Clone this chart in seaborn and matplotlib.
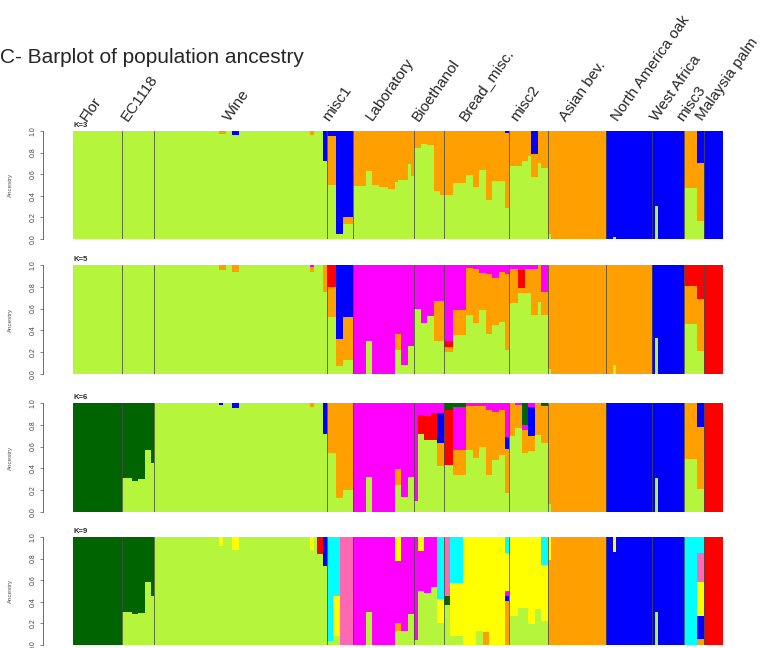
import numpy as np
import pandas as pd
import matplotlib.pyplot as plt
import matplotlib.transforms as mtransforms
import seaborn as sns

# Populations (left to right) and number of strains in each
pops = ['Flor', 'EC1118', 'Wine', 'misc1', 'Laboratory', 'Bioethanol', 'Bread_misc.',
        'misc2', 'Asian bev.', 'North America oak', 'West Africa', 'misc3', 'Malaysia palm']
pop_sizes = [15, 10, 53, 8, 19, 9, 20, 12, 18, 14, 10, 6, 6]

# Ancestry components, stacked from bottom to top
comp_order = ['L', 'O', 'B', 'R', 'M', 'G', 'Y', 'P', 'C']
comp_colors = {'L': '#B5F53C', 'O': '#FFA000', 'B': '#0000FF', 'R': '#FF0000',
               'M': '#FF00FF', 'G': '#006400', 'Y': '#FFFF00', 'P': '#FF69B4',
               'C': '#00FFFF'}

# Each run: (number of strains, ancestry fractions)
k3_runs = [
    (45, dict(L=1)), (2, dict(L=.97, O=.03)), (2, dict(L=1)), (2, dict(L=.96, B=.04)),
    (22, dict(L=1)), (1, dict(L=.96, O=.04)), (3, dict(L=1)), (1, dict(L=.72, B=.28)),
    (3, dict(L=.50, O=.45, B=.05)), (2, dict(L=.05, B=.95)), (3, dict(L=.14, O=.06, B=.80)),
    (4, dict(L=.49, O=.51)), (2, dict(L=.63, O=.37)), (2, dict(L=.50, O=.50)),
    (3, dict(L=.48, O=.52)), (2, dict(L=.46, O=.54)), (1, dict(L=.53, O=.47)),
    (3, dict(L=.55, O=.45)), (1, dict(L=.69, O=.31)), (1, dict(L=.58, O=.42)),
    (2, dict(L=.84, O=.16)), (2, dict(L=.88, O=.12)), (2, dict(L=.87, O=.13)),
    (2, dict(L=.44, O=.56)),
    (4, dict(L=.41, O=.59)), (4, dict(L=.52, O=.48)), (2, dict(L=.59, O=.41)),
    (2, dict(L=.48, O=.52)), (2, dict(L=.64, O=.36)), (2, dict(L=.36, O=.64)),
    (4, dict(L=.54, O=.46)), (1, dict(L=.29, O=.69, B=.02)),
    (4, dict(L=.68, O=.32)), (2, dict(L=.72, O=.28)), (1, dict(L=.77, O=.23)),
    (2, dict(L=.57, O=.22, B=.21)), (1, dict(L=.70, O=.30)), (2, dict(L=.66, O=.34)),
    (1, dict(L=.05, O=.95)), (17, dict(O=1)),
    (2, dict(B=1)), (1, dict(L=.02, B=.98)), (11, dict(B=1)),
    (1, dict(B=1)), (1, dict(L=.31, B=.69)), (8, dict(B=1)),
    (4, dict(L=.47, O=.53)), (2, dict(L=.17, O=.53, B=.30)),
    (6, dict(B=1)),
]

k5_runs = [
    (45, dict(L=1)), (2, dict(L=.95, O=.05)), (2, dict(L=1)), (2, dict(L=.94, O=.06)),
    (22, dict(L=1)), (1, dict(L=.94, O=.04, M=.02)), (3, dict(L=1)), (1, dict(L=.75, O=.25)),
    (3, dict(L=.52, O=.28, R=.20)), (2, dict(L=.07, O=.25, B=.68)), (3, dict(L=.13, O=.39, B=.48)),
    (4, dict(M=1)), (2, dict(L=.30, M=.70)), (7, dict(M=1)), (2, dict(L=.22, O=.15, M=.63)),
    (2, dict(L=.08, M=.92)), (2, dict(L=.26, M=.74)),
    (2, dict(L=.60, M=.40)), (2, dict(L=.47, M=.53)), (2, dict(L=.53, M=.47)),
    (2, dict(L=.30, O=.37, M=.33)),
    (1, dict(L=.30, O=.37, M=.33)), (3, dict(L=.20, O=.05, R=.05, M=.70)),
    (4, dict(L=.36, O=.23, M=.41)), (2, dict(L=.54, O=.43, M=.03)),
    (2, dict(L=.47, O=.49, M=.04)), (2, dict(L=.59, O=.34, M=.07)),
    (2, dict(L=.37, O=.55, M=.08)), (2, dict(L=.45, O=.43, M=.12)),
    (2, dict(L=.48, O=.46, M=.06)), (1, dict(L=.22, O=.70, M=.08)),
    (3, dict(L=.65, O=.31, M=.04)), (2, dict(L=.74, O=.05, R=.16, M=.05)),
    (2, dict(L=.74, O=.22, M=.04)), (2, dict(L=.54, O=.42, M=.04)),
    (1, dict(L=.66, O=.34)), (2, dict(L=.54, O=.21, M=.25)),
    (1, dict(L=.05, O=.95)), (17, dict(O=1)),
    (2, dict(O=1)), (1, dict(L=.08, O=.92)), (11, dict(O=1)),
    (1, dict(B=1)), (1, dict(L=.33, B=.67)), (8, dict(B=1)),
    (4, dict(L=.46, O=.35, R=.19)), (2, dict(L=.21, O=.48, R=.31)),
    (6, dict(R=1)),
]

k6_runs = [
    (15, dict(G=1)), (3, dict(L=.31, G=.69)), (2, dict(L=.28, G=.72)),
    (2, dict(L=.30, G=.70)), (2, dict(L=.57, G=.43)), (1, dict(L=.45, G=.55)),
    (20, dict(L=1)), (1, dict(L=.98, B=.02)), (3, dict(L=1)), (2, dict(L=.95, B=.05)),
    (22, dict(L=1)), (1, dict(L=.96, O=.04)), (3, dict(L=1)), (1, dict(L=.72, B=.28)),
    (3, dict(L=.54, O=.46)), (2, dict(L=.13, O=.87)), (3, dict(L=.20, O=.80)),
    (4, dict(M=1)), (2, dict(L=.32, M=.68)), (7, dict(M=1)), (2, dict(L=.25, O=.14, M=.61)),
    (2, dict(L=.14, M=.86)), (2, dict(L=.32, M=.68)),
    (1, dict(L=.10, M=.90)), (2, dict(L=.72, R=.17, M=.11)), (2, dict(L=.66, R=.22, M=.12)),
    (2, dict(L=.66, R=.25, M=.09)), (2, dict(L=.42, O=.21, B=.28, M=.09)),
    (3, dict(L=.43, R=.51, G=.06)), (4, dict(L=.34, O=.23, M=.39, G=.04)),
    (2, dict(L=.57, O=.40, M=.03)), (2, dict(L=.50, O=.47, M=.03)),
    (2, dict(L=.60, O=.37, M=.03)), (2, dict(L=.34, O=.60, M=.06)),
    (2, dict(L=.48, O=.44, M=.08)), (2, dict(L=.52, O=.42, M=.06)),
    (1, dict(L=.17, O=.41, B=.11, M=.31)),
    (2, dict(L=.70, O=.30)), (2, dict(L=.77, O=.21, M=.02)),
    (2, dict(L=.54, O=.21, M=.05, G=.20)), (2, dict(L=.56, O=.14, B=.26, M=.04)),
    (2, dict(L=.71, O=.29)), (2, dict(L=.63, O=.34, G=.03)),
    (1, dict(L=.07, O=.93)), (17, dict(O=1)),
    (14, dict(B=1)),
    (1, dict(B=1)), (1, dict(L=.31, B=.69)), (8, dict(B=1)),
    (4, dict(L=.49, O=.51)), (2, dict(L=.21, O=.57, B=.22)),
    (6, dict(R=1)),
]

k9_runs = [
    (15, dict(G=1)), (3, dict(L=.31, G=.69)), (2, dict(L=.29, G=.71)),
    (2, dict(L=.30, G=.70)), (2, dict(L=.58, G=.42)), (1, dict(L=.45, G=.55)),
    (20, dict(L=1)), (1, dict(L=.92, Y=.08)), (3, dict(L=1)), (2, dict(L=.88, Y=.12)),
    (22, dict(L=1)), (1, dict(L=.88, Y=.12)), (1, dict(L=1)), (2, dict(L=.84, R=.16)),
    (1, dict(L=.73, B=.27)),
    (2, dict(L=.04, C=.96)), (2, dict(L=.08, Y=.37, C=.55)), (4, dict(P=1)),
    (4, dict(M=1)), (2, dict(L=.31, M=.69)), (7, dict(M=1)),
    (2, dict(L=.13, O=.07, M=.58, Y=.22)), (2, dict(L=.13, M=.87)), (2, dict(L=.29, M=.71)),
    (1, dict(L=.05, M=.95)), (2, dict(L=.50, M=.37, Y=.13)), (2, dict(L=.48, M=.52)),
    (2, dict(L=.54, M=.46)), (2, dict(L=.20, Y=.23, C=.57)), (2, dict(L=.37, G=.08, P=.55)),
    (4, dict(L=.08, Y=.49, C=.43)), (4, dict(Y=1)), (2, dict(L=.13, Y=.87)),
    (2, dict(O=.12, Y=.88)), (5, dict(Y=1)), (1, dict(O=.41, B=.04, M=.05, Y=.35, C=.15)),
    (3, dict(L=.27, Y=.73)), (3, dict(L=.34, Y=.66)), (2, dict(L=.19, Y=.81)),
    (2, dict(L=.33, Y=.67)), (2, dict(L=.22, Y=.52, C=.26)),
    (1, dict(O=.79, Y=.21)), (17, dict(O=1)),
    (2, dict(B=1)), (1, dict(B=.86, Y=.14)), (11, dict(B=1)),
    (1, dict(B=1)), (1, dict(L=.31, B=.69)), (8, dict(B=1)),
    (4, dict(C=1)), (2, dict(O=.06, B=.21, Y=.31, P=.27, C=.15)),
    (6, dict(R=1)),
]

panels = [('K=3', k3_runs), ('K=5', k5_runs), ('K=6', k6_runs), ('K=9', k9_runs)]


def expand(runs):
    rows = []
    for n, mix in runs:
        total = sum(mix.values())
        for _ in range(n):
            rows.append({c: mix.get(c, 0) / total for c in comp_order})
    df = pd.DataFrame(rows)
    df['ind'] = np.arange(len(df))
    return df


sns.set_style('white')
plt.rcParams['font.family'] = ['Liberation Sans', 'DejaVu Sans']

W, H = 774, 648
fig = plt.figure(figsize=(W / 100, H / 100), dpi=100)
fig.text(0.0, 1 - 63 / H, 'C- Barplot of population ancestry', fontsize=15,
         ha='left', va='baseline')

panel_px = [(131, 239), (265, 374), (403, 512), (537, 645)]
starts = np.concatenate([[0], np.cumsum(pop_sizes)])
n_ind = starts[-1]

for p, ((name, runs), (top, bot)) in enumerate(zip(panels, panel_px)):
    ax = fig.add_axes([73 / W, 1 - bot / H, 650 / W, (bot - top) / H])
    df = expand(runs)
    cum = df[comp_order].cumsum(axis=1)
    # draw cumulative heights from the top component down so lower layers cover upper ones
    for c in reversed(comp_order):
        if df[c].sum() == 0:
            continue
        sns.barplot(x=df['ind'], y=cum[c], color=comp_colors[c], width=1, saturation=1,
                    errorbar=None, linewidth=0, edgecolor='none', antialiased=False, ax=ax)
    for b in starts[1:-1]:
        ax.axvline(b - 0.5, color='#4a4a4a', lw=0.7, alpha=0.8)

    ax.set_xlim(-0.5, n_ind - 0.5)
    ax.set_ylim(0, 1)
    ax.set_xticks([])
    ax.set_xlabel('')
    for s in ['top', 'right', 'bottom']:
        ax.spines[s].set_visible(False)
    ax.spines['left'].set_position(('outward', 21.6))
    ax.spines['left'].set_bounds(0, 1)
    ax.spines['left'].set_linewidth(0.6)
    ax.spines['left'].set_color('#555555')
    ax.set_yticks(np.linspace(0, 1, 6))
    ax.set_yticklabels(['0.0', '0.2', '0.4', '0.6', '0.8', '1.0'], rotation=90,
                       va='center', fontsize=5, color='#444444')
    ax.tick_params(axis='y', left=True, length=2.5, width=0.5, color='#555555', pad=2)
    ax.set_ylabel('Ancestry', fontsize=4.5, color='#555555')
    ax.yaxis.set_label_coords(-0.092, 0.5)
    ax.text(0, 1.055, name, transform=ax.transAxes, fontsize=5.5, fontweight='bold',
            ha='left', va='center')

    if p == 0:
        trans = mtransforms.blended_transform_factory(ax.transData, ax.transAxes)
        for pop, s, n in zip(pops, starts[:-1], pop_sizes):
            ax.text(s + n / 2 - 3, 1.07, pop, transform=trans, rotation=55,
                    rotation_mode='anchor', ha='left', va='bottom', fontsize=11,
                    clip_on=False)

fig.savefig('out.png', dpi=100)
